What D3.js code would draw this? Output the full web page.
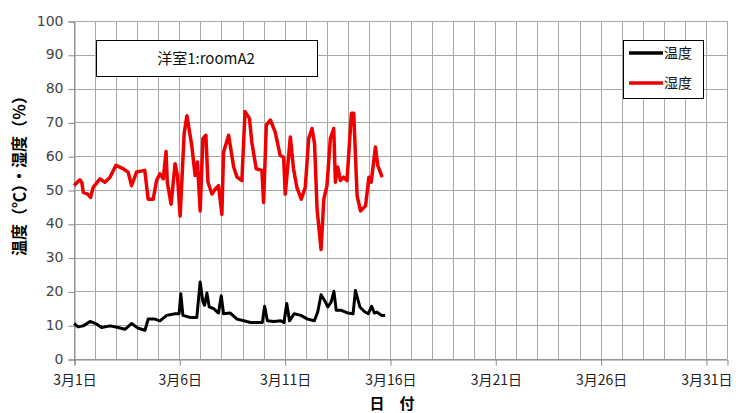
<!DOCTYPE html>
<html>
<head>
<meta charset="utf-8">
<script src="https://cdn.jsdelivr.net/npm/d3@7"></script>
<style>
  body { margin: 0; background: #fff; }
  svg text { font-family: "Noto Sans CJK JP", "DejaVu Sans", sans-serif; }
</style>
</head>
<body>
<div id="chart"></div>
<script>
// day of March (fractional) and readings
const humDay = [1.00,1.28,1.37,1.44,1.65,1.79,1.91,2.23,2.47,2.71,2.99,3.33,3.57,3.73,3.97,4.36,4.52,4.76,4.92,5.08,5.24,5.37,5.43,5.61,5.80,5.91,6.04,6.23,6.36,6.59,6.75,6.86,6.99,7.12,7.26,7.36,7.55,7.71,7.86,8.02,8.10,8.34,8.58,8.74,8.97,9.12,9.33,9.44,9.65,9.92,10.00,10.13,10.32,10.55,10.79,10.95,11.03,11.27,11.42,11.58,11.79,11.98,12.14,12.30,12.42,12.54,12.73,12.86,13.01,13.17,13.33,13.41,13.52,13.65,13.80,13.96,14.17,14.28,14.44,14.60,14.84,15.00,15.11,15.31,15.42,15.63]
const humVal = [51.3,53.0,52.3,49.3,48.8,47.8,50.8,53.3,52.3,53.8,57.3,56.3,55.3,51.3,55.3,55.8,47.3,47.3,52.8,54.8,53.3,61.4,52.3,45.8,57.8,54.3,42.3,66.7,72.0,63.2,54.3,58.3,43.8,65.2,66.2,52.3,48.8,50.3,51.3,42.8,61.2,66.2,56.8,53.8,52.8,73.2,71.2,64.2,56.3,55.8,46.3,69.2,70.7,67.2,60.2,59.7,48.8,65.7,56.3,50.8,47.3,50.8,65.2,68.2,63.7,44.3,32.4,47.3,51.3,65.2,68.2,52.3,56.8,52.8,53.8,52.8,72.7,72.7,48.3,43.8,45.3,53.8,52.3,62.7,57.3,53.8]

const tempDay = [1.00,1.20,1.44,1.76,2.08,2.31,2.71,3.10,3.42,3.73,4.05,4.37,4.52,4.84,5.08,5.40,5.80,5.99,6.07,6.17,6.51,6.83,6.99,7.12,7.20,7.31,7.42,7.63,7.86,7.99,8.10,8.42,8.74,9.06,9.38,9.70,9.94,10.05,10.18,10.50,10.82,10.97,11.10,11.23,11.45,11.77,12.09,12.41,12.57,12.73,12.89,13.05,13.21,13.34,13.45,13.69,14.01,14.25,14.36,14.57,14.81,14.97,15.13,15.26,15.37,15.61,15.77]
const tempVal = [10.5,9.5,9.8,11.1,10.3,9.3,9.8,9.3,8.8,10.5,9.1,8.5,11.8,11.8,11.3,12.9,13.4,13.4,19.3,12.9,12.3,12.3,22.8,16.9,15.9,19.5,15.4,14.9,13.6,18.7,13.4,13.6,11.8,11.3,10.8,10.8,10.8,15.6,11.3,11.1,11.3,10.8,16.4,11.3,13.4,12.9,11.8,11.3,13.9,19.0,17.4,15.4,16.9,20.0,14.4,14.4,13.6,13.4,20.3,15.4,13.9,13.4,15.6,13.6,13.9,12.9,12.9]

const xTicks = [1, 6, 11, 16, 21, 26, 31]
const yTicks = [0, 10, 20, 30, 40, 50, 60, 70, 80, 90, 100]
const seriesNames = ["温度", "湿度"]
const seriesColors = ["#000000", "#ee0000"]
const chartTitle = "洋室1:roomA2"

const W = 736, H = 413
const svg = d3.select("#chart").append("svg").attr("width", W).attr("height", H)

const x = d3.scaleLinear().domain([1, 32]).range([74, 727])
const y = d3.scaleLinear().domain([0, 100]).range([359, 21])

// grid
const grid = svg.append("g").attr("stroke", "#a8a8a8").attr("stroke-width", 1)
grid.selectAll(".vg").data(d3.range(1, 33)).enter().append("line")
  .attr("x1", d => Math.round(x(d)) + 0.5).attr("x2", d => Math.round(x(d)) + 0.5)
  .attr("y1", y(100)).attr("y2", y(0))
grid.selectAll(".hg").data(yTicks).enter().append("line")
  .attr("x1", x(1)).attr("x2", x(32))
  .attr("y1", d => Math.round(y(d)) + 0.5).attr("y2", d => Math.round(y(d)) + 0.5)

// axes
const xAxis = d3.axisBottom(x).tickValues(xTicks).tickSize(6).tickFormat(d => `3月${d}日`)
const gx = svg.append("g").attr("transform", `translate(0.5,${Math.round(y(0)) + 0.5})`).call(xAxis)
gx.select(".domain").attr("stroke", "#888")
gx.selectAll(".tick line").attr("stroke", "#888")
gx.selectAll("text").attr("font-size", 14).attr("fill", "#222").attr("dy", "1.15em")

const yAxis = d3.axisLeft(y).tickValues(yTicks).tickSize(6).tickPadding(5)
const gy = svg.append("g").attr("transform", `translate(${Math.round(x(1)) + 0.5},0.5)`).call(yAxis)
gy.select(".domain").attr("stroke", "#888")
gy.selectAll(".tick line").attr("stroke", "#888")
gy.selectAll("text").attr("font-size", 14).attr("fill", "#444").attr("dy", "0.25em")
  .style("font-family", "'DejaVu Sans', sans-serif")

// lines
const line = d3.line().x(d => x(d[0])).y(d => y(d[1]))
svg.append("path").datum(d3.zip(humDay, humVal))
  .attr("fill", "none").attr("stroke", seriesColors[1]).attr("stroke-width", 3.5)
  .attr("stroke-linejoin", "round").attr("d", line)
svg.append("path").datum(d3.zip(tempDay, tempVal))
  .attr("fill", "none").attr("stroke", seriesColors[0]).attr("stroke-width", 3)
  .attr("stroke-linejoin", "round").attr("d", line)

// title box
svg.append("rect").attr("x", 96.5).attr("y", 40.5).attr("width", 221).attr("height", 36)
  .attr("fill", "#fff").attr("stroke", "#000")
svg.append("text").attr("x", 206).attr("y", 64).attr("text-anchor", "middle")
  .attr("font-size", 15).attr("fill", "#111").text(chartTitle)

// legend
svg.append("rect").attr("x", 623.5).attr("y", 40.5).attr("width", 80).attr("height", 58)
  .attr("fill", "#fff").attr("stroke", "#000")
const lg = svg.selectAll(".lg").data(seriesNames).enter().append("g")
  .attr("transform", (d, i) => `translate(629,${53 + i * 30})`)
lg.append("line").attr("x1", 0).attr("x2", 34).attr("y1", 0).attr("y2", 0)
  .attr("stroke", (d, i) => seriesColors[i]).attr("stroke-width", 3.5)
lg.append("text").attr("x", 35).attr("y", 5).attr("font-size", 14).attr("fill", "#111").text(d => d)

// axis titles
svg.append("text").attr("x", 392).attr("y", 409).attr("text-anchor", "middle")
  .attr("font-size", 15).attr("font-weight", "bold").text("日　付")
svg.append("text").attr("transform", "translate(25,172) rotate(-90)").attr("text-anchor", "middle")
  .attr("font-size", 16).attr("font-weight", "bold")
  .text("温度（℃）・湿度（％）")
</script>
</body>
</html>
